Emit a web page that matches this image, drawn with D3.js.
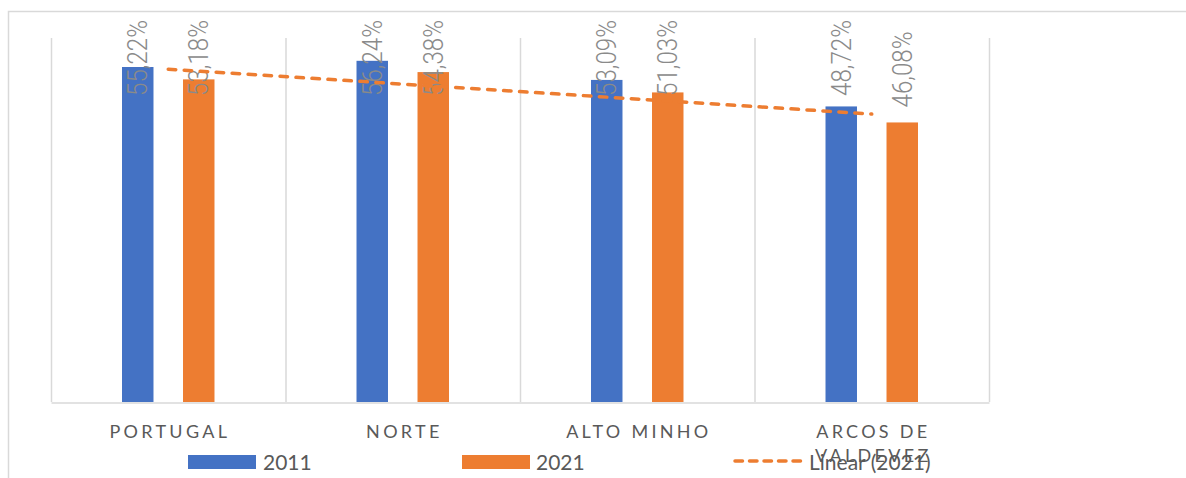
<!DOCTYPE html>
<html>
<head>
<meta charset="utf-8">
<script src="https://cdn.jsdelivr.net/npm/d3@7/dist/d3.min.js"></script>
<style>
  html, body { margin: 0; padding: 0; background: #fff; }
  svg { display: block; }
</style>
</head>
<body>
<svg id="chart" width="1186" height="478"></svg>
<script>
// ---- data ----
const categories = ["PORTUGAL", "NORTE", "ALTO MINHO", "ARCOS DE VALDEVEZ"];
const seriesNames = ["2011", "2021"];
const values2011 = [55.22, 56.24, 53.09, 48.72];
const values2021 = [53.18, 54.38, 51.03, 46.08];
const trendLabel = "Linear (2021)";

const colors = { "2011": "#4472C4", "2021": "#ED7D31" };
const fmt = v => v.toFixed(2).replace(".", ",") + "%";

const svg = d3.select("#chart");
const W = 1186, H = 478;
const plot = { left: 51, right: 989, top: 38, bottom: 402 };

// outer chart frame (partially visible)
svg.append("path")
  .attr("d", `M8.5,${H} L8.5,11.5 L${W},11.5`)
  .attr("fill", "none").attr("stroke", "#d9d9d9").attr("stroke-width", 1.5);

const x0 = d3.scaleBand().domain(categories).range([plot.left, plot.right]).padding(0);
const x1 = d3.scaleBand().domain(seriesNames).range([0, x0.bandwidth()])
  .paddingInner(0.484).paddingOuter(1.164);
const y = d3.scaleLinear().domain([0, 60]).range([plot.bottom, plot.top]);

// vertical gridlines at category boundaries
const bounds = categories.map(c => x0(c)).concat([plot.right]);
svg.append("g").selectAll("line").data(bounds).join("line")
  .attr("x1", d => d + 0.5).attr("x2", d => d + 0.5)
  .attr("y1", plot.top).attr("y2", plot.bottom)
  .attr("stroke", "#d9d9d9").attr("stroke-width", 1.5);

// bars
const rows = categories.map((c, i) => ({ cat: c, vals: [
  { s: "2011", v: values2011[i] }, { s: "2021", v: values2021[i] } ] }));

const gBars = svg.append("g");
const groups = gBars.selectAll("g").data(rows).join("g")
  .attr("transform", d => `translate(${x0(d.cat)},0)`);
groups.selectAll("rect").data(d => d.vals).join("rect")
  .attr("x", d => x1(d.s)).attr("width", x1.bandwidth())
  .attr("y", d => y(d.v)).attr("height", d => y(0) - y(d.v))
  .attr("fill", d => colors[d.s]);

// x axis
const xAxis = d3.axisBottom(x0).tickSize(0).tickSizeOuter(0).tickFormat("");
const gx = svg.append("g").attr("transform", `translate(0,${plot.bottom + 0.5})`).call(xAxis);
gx.select(".domain").attr("stroke", "#d9d9d9").attr("stroke-width", 1.5);
gx.selectAll(".tick").each(function(d) {
  const t = d3.select(this).append("text")
    .attr("fill", "#595959")
    .style("font-family", "Lato, 'Open Sans', sans-serif")
    .style("font-size", "18px")
    .style("letter-spacing", "3.3px")
    .attr("text-anchor", "middle");
  const lines = d === "ARCOS DE VALDEVEZ" ? ["ARCOS DE", "VALDEVEZ"] : [d];
  lines.forEach((ln, k) => {
    t.append("tspan").attr("x", 1.6).attr("y", 35 + k * 24).text(ln);
  });
});

// trend line (linear fit of 2021)
const n = values2021.length;
const xs = d3.range(1, n + 1);
const mx = d3.mean(xs), my = d3.mean(values2021);
const slope = d3.sum(xs.map((xv, i) => (xv - mx) * (values2021[i] - my))) /
              d3.sum(xs.map(xv => (xv - mx) ** 2));
const icpt = my - slope * mx;
const trendPts = [1, n].map(xv => [x0(categories[xv - 1]) + x0.bandwidth() / 2, y(icpt + slope * xv)]);
svg.append("path")
  .attr("d", d3.line()(trendPts))
  .attr("fill", "none").attr("stroke", "#ED7D31").attr("stroke-width", 3.5)
  .attr("stroke-dasharray", "7.5 8.5").attr("stroke-linecap", "round");

// data labels (rotated)
groups.each(function(row) {
  const g = d3.select(this);
  row.vals.forEach(d => {
    const cx = x1(d.s) + x1.bandwidth() / 2;
    const t = g.append("text")
      .attr("fill", "#8a8a8a")
      .style("font-family", "Roboto, sans-serif")
      .style("font-weight", 300)
      .style("font-size", "27px")
      .attr("text-anchor", "start")
      .attr("dy", "0.36em")
      .text(fmt(d.v));
    const len = 76;
    t.attr("textLength", len).attr("lengthAdjust", "spacingAndGlyphs");
    const sy = Math.max(y(d.v) - 15, 20 + len);
    t.attr("transform", `translate(${cx},${sy}) rotate(-90)`);
  });
});

// legend
const lg = svg.append("g").style("font-family", "Lato, 'Open Sans', sans-serif")
  .style("font-size", "21px").attr("fill", "#595959");
const legendItems = [
  { type: "rect", color: colors["2011"], label: seriesNames[0], x: 188, tx: 263 },
  { type: "rect", color: colors["2021"], label: seriesNames[1], x: 462, tx: 536 },
  { type: "line", color: colors["2021"], label: trendLabel, x: 735, tx: 809 }
];
legendItems.forEach(it => {
  if (it.type === "rect") {
    lg.append("rect").attr("x", it.x).attr("y", 455).attr("width", 68).attr("height", 14).attr("fill", it.color);
  } else {
    lg.append("line").attr("x1", it.x).attr("x2", it.x + 67).attr("y1", 461).attr("y2", 461)
      .attr("stroke", it.color).attr("stroke-width", 3.5)
      .attr("stroke-dasharray", "7.5 7").attr("stroke-linecap", "round");
  }
  lg.append("text").attr("x", it.tx).attr("y", 470).text(it.label);
});
</script>
</body>
</html>
